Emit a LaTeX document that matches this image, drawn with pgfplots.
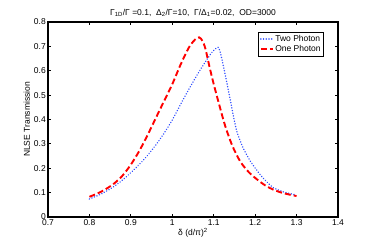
\documentclass[border=0pt]{standalone}
\usepackage{pgfplots}
\pgfplotsset{compat=1.18}
\usepackage{fontspec}
\setmainfont{Liberation Sans}
\begin{document}
\fontsize{8.5}{10}\selectfont
\begin{tikzpicture}
\begin{axis}[
  scale only axis, width=290pt, height=195pt,
  at={(0,0)}, anchor=south west,
  xmin=0.7, xmax=1.4, ymin=0, ymax=0.8,
  xtick={0.7,0.8,...,1.41}, ytick={0,0.1,...,0.81},
  xticklabels={0.7,0.8,0.9,1,1.1,1.2,1.3,1.4},
  yticklabels={0,0.1,0.2,0.3,0.4,0.5,0.6,0.7,0.8},
  /pgf/number format/assume math mode=true,
  tick align=inside, major tick length=3pt,
  tick style={black, line width=0.9pt},
  axis line style={line width=1.5pt},
  ticklabel style={font=\fontsize{8.5}{10}\selectfont, inner sep=1pt},
  xticklabel style={yshift=-1pt},
  yticklabel style={xshift=-1pt},
  xlabel={δ (d/π)\textsuperscript{2}},
  ylabel={NLSE Transmission},
  label style={font=\fontsize{8.5}{10}\selectfont},
  xlabel style={yshift=1pt},
  ylabel style={yshift=0pt},
  title={Γ\textsubscript{1D}/Γ =0.1,\ \ Δ\textsubscript{2}/Γ=10,\ \ Γ/Δ\textsubscript{1}=0.02,\ \ OD=3000},
  title style={font=\fontsize{8.5}{10}\selectfont, yshift=-4pt},
  legend style={at={(0.952,0.95)}, anchor=north east, draw=black, line width=0.8pt,
    font=\fontsize{8.5}{10}\selectfont, inner sep=1.5pt, row sep=0pt,
    nodes={inner sep=1.5pt}},
  legend cell align=left,
  legend image code/.code={\draw[#1] (0pt,0pt) -- (12pt,0pt);},
]
\addplot[smooth, tension=0.4, color={rgb,255:red,50;green,80;blue,255}, line width=1.6pt, line cap=round, dash pattern=on 0.01pt off 2.7pt] coordinates {
(0.80,0.074) (0.82,0.088) (0.84,0.105) (0.86,0.126) (0.88,0.152) (0.90,0.182)
(0.92,0.215) (0.94,0.252) (0.96,0.295) (0.98,0.343) (1.00,0.398)
(1.02,0.462) (1.04,0.524) (1.06,0.583) (1.08,0.637) (1.095,0.674) (1.105,0.691)
(1.111,0.696) (1.116,0.675) (1.122,0.630) (1.13,0.565) (1.14,0.48) (1.148,0.41)
(1.156,0.350) (1.17,0.287) (1.188,0.230) (1.212,0.174) (1.23,0.141) (1.244,0.120)
(1.27,0.102) (1.30,0.090)
};
\addlegendentry{Two Photon}
\addplot[smooth, tension=0.5, color=red, line width=1.9pt, dash pattern=on 6pt off 3pt] coordinates {
(0.80,0.083) (0.82,0.097) (0.84,0.115) (0.86,0.138) (0.88,0.170) (0.90,0.215)
(0.92,0.270) (0.94,0.335) (0.96,0.405) (0.98,0.475) (1.00,0.545)
(1.02,0.625) (1.04,0.695) (1.055,0.728) (1.065,0.737)
(1.073,0.722) (1.08,0.690) (1.09,0.615) (1.10,0.545) (1.115,0.450)
(1.128,0.372) (1.145,0.292) (1.164,0.228) (1.184,0.185) (1.204,0.155) (1.224,0.130)
(1.244,0.112) (1.27,0.097) (1.30,0.086)
};
\addlegendentry{One Photon}
\end{axis}
\pgfresetboundingbox
\path (-48pt,-28pt) rectangle (326pt,217pt);
\end{tikzpicture}
\end{document}
